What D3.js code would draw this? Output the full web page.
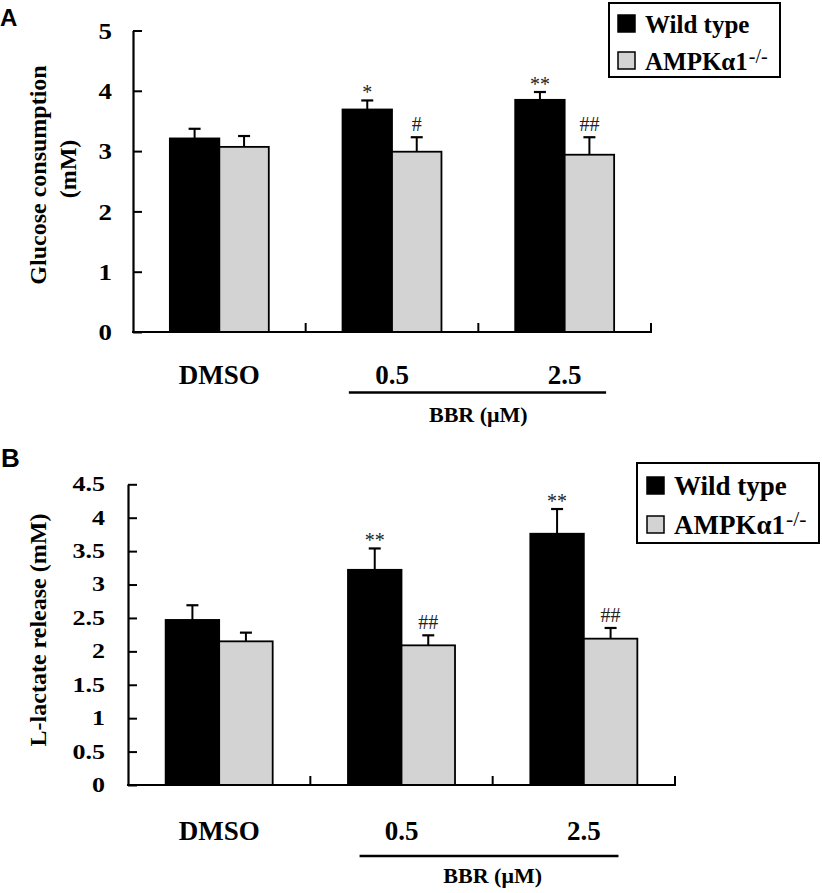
<!DOCTYPE html>
<html>
<head>
<meta charset="utf-8">
<script src="https://cdn.jsdelivr.net/npm/d3@7"></script>
<style>
  html, body { margin: 0; padding: 0; background: #fff; }
  svg { display: block; }
</style>
</head>
<body>
<script>
// ---------------- data ----------------
const categories = ["DMSO", "0.5", "2.5"];
const seriesNames = ["Wild type", "AMPKα1"];
const seriesSuperscript = ["", "-/-"];
const groupLabel = "BBR (μM)";

// Panel A: glucose consumption (mM)
const glucoseWT = [3.21, 3.69, 3.85];
const glucoseWTErr = [0.16, 0.15, 0.13];
const glucoseKO = [3.07, 2.99, 2.94];
const glucoseKOErr = [0.18, 0.24, 0.29];
const glucoseWTSig = ["", "*", "**"];
const glucoseKOSig = ["", "#", "##"];
const glucoseTicks = [0, 1, 2, 3, 4, 5];
const glucoseTickLabels = ["0", "1", "2", "3", "4", "5"];

// Panel B: L-lactate release (mM)
const lactateWT = [2.47, 3.22, 3.76];
const lactateWTErr = [0.22, 0.32, 0.37];
const lactateKO = [2.15, 2.09, 2.19];
const lactateKOErr = [0.13, 0.15, 0.16];
const lactateWTSig = ["", "**", "**"];
const lactateKOSig = ["", "##", "##"];
const lactateTicks = [0, 0.5, 1, 1.5, 2, 2.5, 3, 3.5, 4, 4.5];
const lactateTickLabels = ["0", "0.5", "1", "1.5", "2", "2.5", "3", "3.5", "4", "4.5"];

const colors = ["#000000", "#d3d3d4"];

// ---------------- drawing ----------------
const SERIF = "Liberation Serif, Times New Roman, serif";
const svg = d3.select("body").append("svg")
  .attr("width", 822).attr("height", 893)
  .attr("viewBox", "0 0 822 893");
svg.append("rect").attr("width", 822).attr("height", 893).attr("fill", "#fff");

function panel(cfg) {
  const g = svg.append("g");
  const x = d3.scaleBand().domain(categories).range([cfg.x0, cfg.x1]).paddingInner(0).paddingOuter(0);
  const bw = x.bandwidth();
  const x1 = d3.scaleBand().domain([0, 1])
    .range([bw * (1 - cfg.groupFrac) / 2, bw * (1 + cfg.groupFrac) / 2]);
  const y = d3.scaleLinear().domain([0, cfg.yMax]).range([cfg.yBottom, cfg.yTop]);

  // panel letter
  g.append("text").attr("x", cfg.letterX).attr("y", cfg.letterY)
    .attr("font-family", "Liberation Sans, Arial, sans-serif")
    .attr("font-weight", "bold").attr("font-size", cfg.letterSize)
    .text(cfg.letter);

  // y axis
  const yAxis = d3.axisLeft(y)
    .tickValues(cfg.ticks)
    .tickFormat((d, i) => cfg.tickLabels[i])
    .tickSizeInner(-9).tickSizeOuter(0).tickPadding(cfg.tickPad);
  const ya = g.append("g").attr("transform", `translate(${cfg.x0},0)`).call(yAxis);
  ya.select(".domain").attr("stroke", "#000").attr("stroke-width", 2.2);
  ya.selectAll(".tick line").attr("stroke", "#000").attr("stroke-width", 2);
  ya.selectAll(".tick text")
    .attr("font-family", SERIF)
    .attr("font-weight", "bold").attr("font-size", cfg.tickFont).attr("fill", "#000")
    .attr("x", -cfg.tickPad / cfg.tickStretch)
    .attr("transform", `scale(${cfg.tickStretch},1)`);

  // y title
  cfg.yTitle.forEach(t => {
    g.append("text")
      .attr("transform", `translate(${t.x},${t.y}) rotate(-90)`)
      .attr("text-anchor", "middle")
      .attr("font-family", SERIF)
      .attr("font-weight", "bold").attr("font-size", cfg.titleFont)
      .text(t.text);
  });

  // bars
  const series = [
    { vals: cfg.wt, errs: cfg.wtErr, sig: cfg.wtSig },
    { vals: cfg.ko, errs: cfg.koErr, sig: cfg.koSig }
  ];
  series.forEach((s, si) => {
    categories.forEach((c, ci) => {
      const bx = x(c) + x1(si);
      const v = s.vals[ci];
      const top = y(v + s.errs[ci]);
      const cx = bx + x1.bandwidth() / 2;
      // error bar (upper only)
      g.append("line").attr("x1", cx).attr("x2", cx).attr("y1", y(v)).attr("y2", top)
        .attr("stroke", "#000").attr("stroke-width", 2);
      g.append("line").attr("x1", cx - 6).attr("x2", cx + 6).attr("y1", top).attr("y2", top)
        .attr("stroke", "#000").attr("stroke-width", 2.2);
      g.append("rect")
        .attr("x", bx).attr("y", y(v))
        .attr("width", x1.bandwidth()).attr("height", y(0) - y(v))
        .attr("fill", colors[si]).attr("stroke", "#000").attr("stroke-width", 1.8);
      if (s.sig[ci]) {
        const isHash = s.sig[ci].indexOf("#") >= 0;
        g.append("text").attr("x", cx).attr("y", top - (isHash ? 6 : 1))
          .attr("text-anchor", "middle")
          .attr("font-family", SERIF)
          .attr("font-size", 20).attr("fill", "#222")
          .text(s.sig[ci]);
      }
    });
  });

  // x axis line with category boundary ticks
  g.append("line").attr("x1", cfg.x0 - 1).attr("x2", cfg.x1 + 1)
    .attr("y1", y(0)).attr("y2", y(0)).attr("stroke", "#000").attr("stroke-width", 2.2);
  categories.forEach(c => {
    const bx = x(c) + bw;
    g.append("line").attr("x1", bx).attr("x2", bx).attr("y1", y(0)).attr("y2", y(0) - 9)
      .attr("stroke", "#000").attr("stroke-width", 2);
  });

  // category labels
  categories.forEach(c => {
    g.append("text").attr("x", x(c) + bw / 2).attr("y", cfg.catY)
      .attr("text-anchor", "middle")
      .attr("font-family", SERIF)
      .attr("font-weight", "bold").attr("font-size", cfg.catFont)
      .text(c);
  });
  // group bracket line
  const lx1 = x(categories[1]) + bw * cfg.lineFrac[0];
  const lx2 = x(categories[2]) + bw * cfg.lineFrac[1];
  g.append("line").attr("x1", lx1).attr("x2", lx2).attr("y1", cfg.lineY).attr("y2", cfg.lineY)
    .attr("stroke", "#000").attr("stroke-width", 2.6);
  g.append("text").attr("x", (x(categories[1]) + x(categories[2]) + bw) / 2).attr("y", cfg.groupY)
    .attr("text-anchor", "middle")
    .attr("font-family", SERIF)
    .attr("font-weight", "bold").attr("font-size", cfg.groupFont)
    .text(groupLabel);

  // legend
  const L = cfg.legend;
  g.append("rect").attr("x", L.x).attr("y", L.y).attr("width", L.w).attr("height", L.h)
    .attr("fill", "#fff").attr("stroke", "#000").attr("stroke-width", 2);
  seriesNames.forEach((n, i) => {
    const rowY = L.y + L.rowY[i];
    g.append("rect").attr("x", L.x + L.sqX).attr("y", rowY - L.sq)
      .attr("width", L.sq).attr("height", L.sq)
      .attr("fill", colors[i]).attr("stroke", "#000").attr("stroke-width", 1.5);
    const t = g.append("text").attr("x", L.x + L.textX).attr("y", rowY + 1)
      .attr("font-family", SERIF)
      .attr("font-weight", "bold").attr("font-size", L.font)
      .text(n);
    if (seriesSuperscript[i]) {
      t.append("tspan").attr("dx", 1).attr("dy", -L.font * 0.3).attr("font-size", L.font * 0.8)
        .attr("font-weight", "normal")
        .text(seriesSuperscript[i]);
    }
  });
}

panel({
  letter: "A", letterX: 0, letterY: 26, letterSize: 24,
  x0: 133, x1: 651, groupFrac: 0.573,
  yMax: 5, yBottom: 332, yTop: 30.5,
  ticks: glucoseTicks, tickLabels: glucoseTickLabels, tickPad: 21, tickFont: 24, tickStretch: 1.12,
  titleFont: 24,
  yTitle: [ { text: "Glucose consumption", x: 46, y: 175 }, { text: "(mM)", x: 76, y: 169 } ],
  wt: glucoseWT, wtErr: glucoseWTErr, wtSig: glucoseWTSig,
  ko: glucoseKO, koErr: glucoseKOErr, koSig: glucoseKOSig,
  catY: 384, catFont: 27,
  lineY: 392.5, lineFrac: [0.25, 0.74],
  groupY: 422, groupFont: 22,
  legend: { x: 609, y: 3, w: 171, h: 74, sqX: 9, sq: 17, textX: 36, rowY: [29, 66], font: 25 }
});

panel({
  letter: "B", letterX: 1, letterY: 467, letterSize: 26,
  x0: 128, x1: 675, groupFrac: 0.587,
  yMax: 4.5, yBottom: 785, yTop: 484.3,
  ticks: lactateTicks, tickLabels: lactateTickLabels, tickPad: 23, tickFont: 20, tickStretch: 1.3,
  titleFont: 24,
  yTitle: [ { text: "L-lactate release (mM)", x: 46, y: 630 } ],
  wt: lactateWT, wtErr: lactateWTErr, wtSig: lactateWTSig,
  ko: lactateKO, koErr: lactateKOErr, koSig: lactateKOSig,
  catY: 840, catFont: 27,
  lineY: 856, lineFrac: [0.27, 0.69],
  groupY: 883, groupFont: 22,
  legend: { x: 637, y: 463, w: 182, h: 80, sqX: 10, sq: 17, textX: 37, rowY: [31, 70], font: 27 }
});
</script>
</body>
</html>
